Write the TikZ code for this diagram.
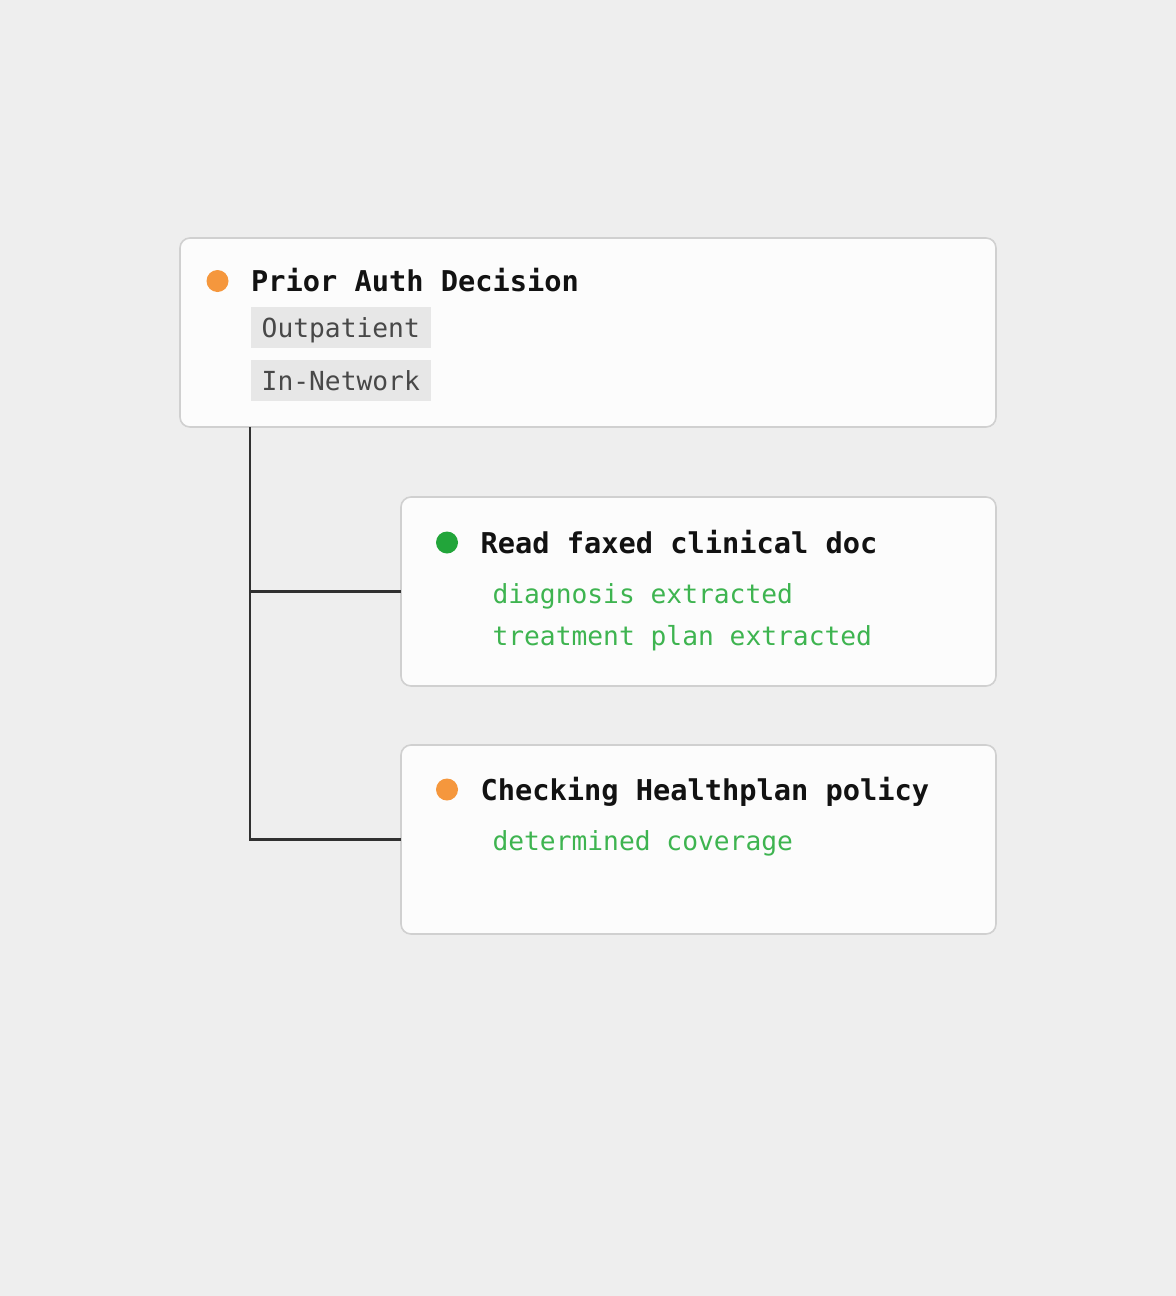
\documentclass[tikz,border=0pt]{standalone}
\usepackage{fontspec}
\setmonofont{DejaVu Sans Mono}
\usepackage{tikz}
\usetikzlibrary{positioning}
\usepackage{xcolor}
\definecolor{canvas}{RGB}{238, 238, 238}
\definecolor{cardfill}{RGB}{252, 252, 252}
\definecolor{cardline}{RGB}{208, 208, 208}
\definecolor{pending}{RGB}{245, 151, 61}
\definecolor{done}{RGB}{34, 165, 58}
\definecolor{found}{RGB}{62, 180, 80}
\definecolor{chipfill}{RGB}{231, 231, 231}
\definecolor{chiptext}{RGB}{72, 72, 72}
\definecolor{wire}{RGB}{48, 48, 48}

\begin{document}
\begin{tikzpicture}[
        x=0.75pt, y=-0.75pt,
        card/.style={draw=cardline, line width=1.2pt, fill=cardfill, rounded corners=7.5pt, inner sep=0pt, outer sep=0pt},
        statusdot/.style={circle, minimum size=16.5pt, inner sep=0pt},
        cardtitle/.style={font=\ttfamily\bfseries\fontsize{21.5}{24}\selectfont, text=black!93, inner sep=0pt, text height=16pt, text depth=0pt},
        tagchip/.style={fill=chipfill, text=chiptext, font=\ttfamily\fontsize{19.7}{22}\selectfont, inner xsep=8pt, inner ysep=0pt, text height=22.5pt, text depth=7.9pt},
        finding/.style={text=found, font=\ttfamily\fontsize{19.7}{22}\selectfont, inner sep=0pt},
        link/.style={draw=wire, line width=2.2pt}
    ]
        \fill[canvas] (0,0) rectangle (1176,1296);

        \node[card, minimum width=612pt, minimum height=141.75pt] (decision) at (588,332.5) {};
        \node[card, minimum width=446.25pt, minimum height=141.75pt] (readdoc) at (698.5,591.5) {};
        \node[card, minimum width=446.25pt, minimum height=141.75pt, below=44.25pt of readdoc] (policy) {};

        \node[statusdot, fill=pending] (decisiondot) at (217.5,281) {};
        \node[cardtitle, right=16.5pt of decisiondot] (decisiontitle) {Prior Auth Decision};
        \node[tagchip, below=11.25pt of decisiontitle.south west, anchor=north west] (outpatient) {Outpatient};
        \node[tagchip, below=9pt of outpatient.south west, anchor=north west] (innetwork) {In-Network};

        \node[statusdot, fill=done] (readdot) at (447,542.5) {};
        \node[cardtitle, right=16.5pt of readdot] (readtitle) {Read faxed clinical doc};
        \node[finding, anchor=base west] (diagnosis) at ([shift={(12,50)}]readtitle.base west) {diagnosis extracted};
        \node[finding, anchor=base west] (treatment) at ([yshift=-31.5pt]diagnosis.base west) {treatment plan extracted};

        \node[statusdot, fill=pending] (policydot) at (447,789.5) {};
        \node[cardtitle, right=16.5pt of policydot] (policytitle) {Checking Healthplan policy};
        \node[finding, anchor=base west] (coverage) at ([shift={(12,50)}]policytitle.base west) {determined coverage};

        \coordinate (trunk) at ([xshift=52.5pt]decision.south west);
        \draw[link] (trunk) |- (readdoc.west);
        \draw[link] (trunk) |- (policy.west);
    \end{tikzpicture}
\end{document}
